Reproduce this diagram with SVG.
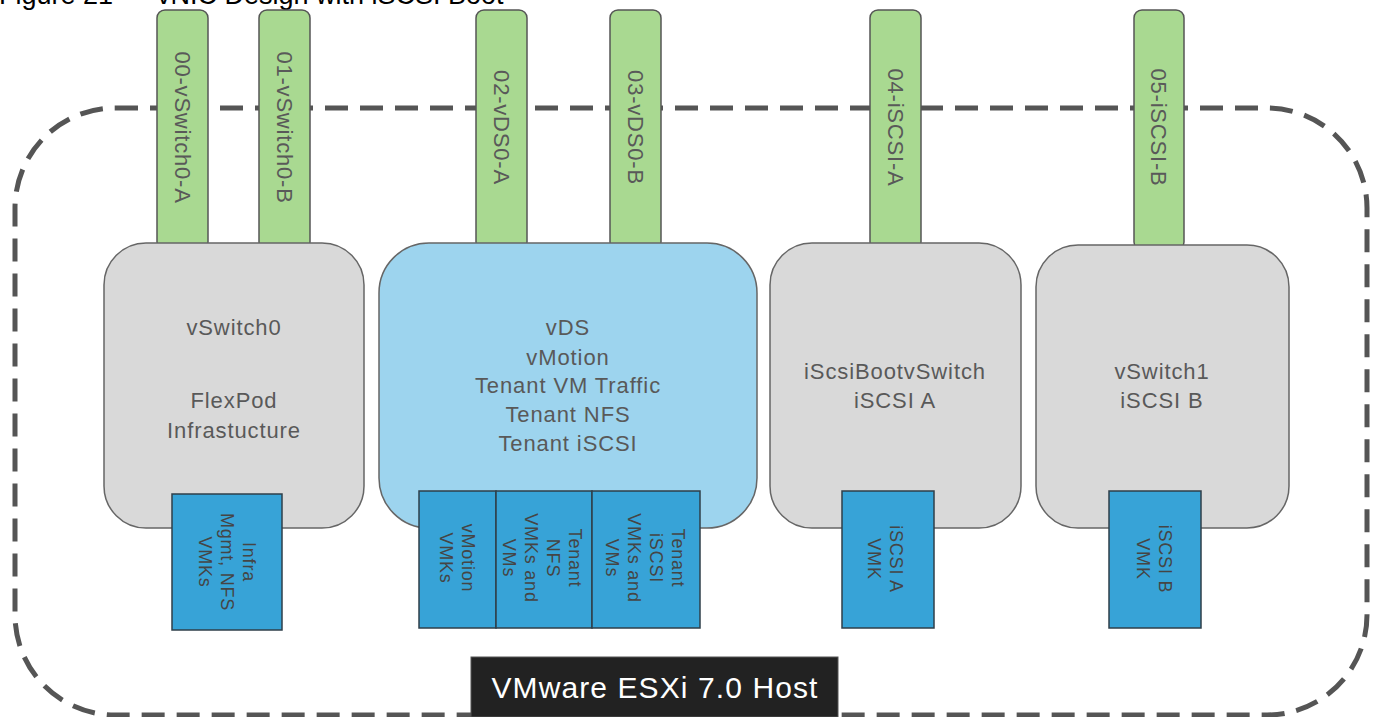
<svg xmlns="http://www.w3.org/2000/svg" width="1377" height="717" viewBox="0 0 1377 717">
<style>
.t{font-family:"Liberation Sans",Arial,sans-serif;fill:#595959}
.tab{fill:#A9D991;stroke:#555;stroke-width:1.5}
.gray{fill:#D9D9D9;stroke:#666;stroke-width:1.5}
.lblue{fill:#9DD4EE;stroke:#666;stroke-width:1.5}
.vmk{fill:#37A3D7;stroke:#2f3f4a;stroke-width:1.5}
.bt{font-size:22px;text-anchor:middle;letter-spacing:0.9px}
.tt{font-size:22px;text-anchor:middle;letter-spacing:0.8px}
.st{font-size:18px;text-anchor:middle;fill:#454545;letter-spacing:0.8px}
</style>
<rect width="1377" height="717" fill="#fff"/>
<text x="-1" y="4" font-family="Liberation Sans,Arial,sans-serif" font-size="27" fill="#000">Figure 21</text>
<text x="157" y="4" font-family="Liberation Sans,Arial,sans-serif" font-size="27" fill="#000">vNIC Design with iSCSI Boot</text>
<g id="host-boundary">
<rect x="15" y="108" width="1352" height="607" rx="100" ry="100" fill="none" stroke="#555" stroke-width="5" stroke-dasharray="23 12"/>
</g>
<g id="connectors">
<g id="tab00"><rect class="tab" x="157" y="10" width="51" height="240" rx="8"/><text class="t tt" transform="translate(182.5,127.5) rotate(90)" y="8">00-vSwitch0-A</text></g>
<g id="tab01"><rect class="tab" x="259" y="10" width="51" height="240" rx="8"/><text class="t tt" transform="translate(284.5,127.5) rotate(90)" y="8">01-vSwitch0-B</text></g>
<g id="tab02"><rect class="tab" x="476" y="10" width="51" height="240" rx="8"/><text class="t tt" transform="translate(501.5,127.5) rotate(90)" y="8">02-vDS0-A</text></g>
<g id="tab03"><rect class="tab" x="610" y="10" width="51" height="240" rx="8"/><text class="t tt" transform="translate(635.5,127.5) rotate(90)" y="8">03-vDS0-B</text></g>
<g id="tab04"><rect class="tab" x="870" y="10" width="51" height="240" rx="8"/><text class="t tt" transform="translate(895.5,127.5) rotate(90)" y="8">04-iSCSI-A</text></g>
<g id="tab05"><rect class="tab" x="1134" y="10" width="50" height="240" rx="8"/><text class="t tt" transform="translate(1159,127.5) rotate(90)" y="8">05-iSCSI-B</text></g>
</g>
<g id="vswitch0">
<rect class="gray" x="104" y="243" width="260" height="285" rx="42"/>
<text class="t bt" x="234" y="335">vSwitch0</text>
<text class="t bt" x="234" y="408">FlexPod</text>
<text class="t bt" x="234" y="438">Infrastucture</text>
</g>
<g id="vds">
<rect class="lblue" x="379" y="243" width="378" height="285" rx="50"/>
<text class="t bt" x="568" y="335">vDS</text>
<text class="t bt" x="568" y="365">vMotion</text>
<text class="t bt" x="568" y="393">Tenant VM Traffic</text>
<text class="t bt" x="568" y="422">Tenant NFS</text>
<text class="t bt" x="568" y="451">Tenant iSCSI</text>
</g>
<g id="iscsibootvswitch">
<rect class="gray" x="770" y="243" width="251" height="285" rx="42"/>
<text class="t bt" x="895" y="379">iScsiBootvSwitch</text>
<text class="t bt" x="895" y="408">iSCSI A</text>
</g>
<g id="vswitch1">
<rect class="gray" x="1036" y="245" width="253" height="283" rx="42"/>
<text class="t bt" x="1162" y="379">vSwitch1</text>
<text class="t bt" x="1162" y="408">iSCSI B</text>
</g>
<g id="vmk-infra">
<rect class="vmk" x="172" y="494" width="110" height="136"/>
<text class="t st" transform="translate(227,562) rotate(90)"><tspan x="0" y="-16">Infra</tspan><tspan x="0" y="6">Mgmt, NFS</tspan><tspan x="0" y="28">VMKs</tspan></text>
</g>
<g id="vmk-vmotion">
<rect class="vmk" x="419" y="491" width="77" height="137"/>
<text class="t st" transform="translate(457,558) rotate(90)"><tspan x="0" y="-5">vMotion</tspan><tspan x="0" y="17">VMKs</tspan></text>
</g>
<g id="vmk-nfs">
<rect class="vmk" x="496" y="491" width="96" height="137"/>
<text class="t st" transform="translate(542,558) rotate(90)"><tspan x="0" y="-27">Tenant</tspan><tspan x="0" y="-5">NFS</tspan><tspan x="0" y="17">VMKs and</tspan><tspan x="0" y="39">VMs</tspan></text>
</g>
<g id="vmk-iscsi">
<rect class="vmk" x="592" y="491" width="108" height="137"/>
<text class="t st" transform="translate(645,558) rotate(90)"><tspan x="0" y="-27">Tenant</tspan><tspan x="0" y="-5">iSCSI</tspan><tspan x="0" y="17">VMKs and</tspan><tspan x="0" y="39">VMs</tspan></text>
</g>
<g id="vmk-iscsi-a">
<rect class="vmk" x="842" y="491" width="92" height="137"/>
<text class="t st" transform="translate(885,559) rotate(90)"><tspan x="0" y="-5">iSCSI A</tspan><tspan x="0" y="17">VMK</tspan></text>
</g>
<g id="vmk-iscsi-b">
<rect class="vmk" x="1109" y="491" width="92" height="137"/>
<text class="t st" transform="translate(1154,559) rotate(90)"><tspan x="0" y="-5">iSCSI B</tspan><tspan x="0" y="17">VMK</tspan></text>
</g>
<g id="host-label">
<rect x="471" y="657" width="367" height="60" fill="#222" stroke="#555" stroke-width="1"/>
<text x="655" y="698" text-anchor="middle" font-family="Liberation Sans,Arial,sans-serif" font-size="30" letter-spacing="1.1" fill="#fff">VMware ESXi 7.0 Host</text>
</g>
</svg>
